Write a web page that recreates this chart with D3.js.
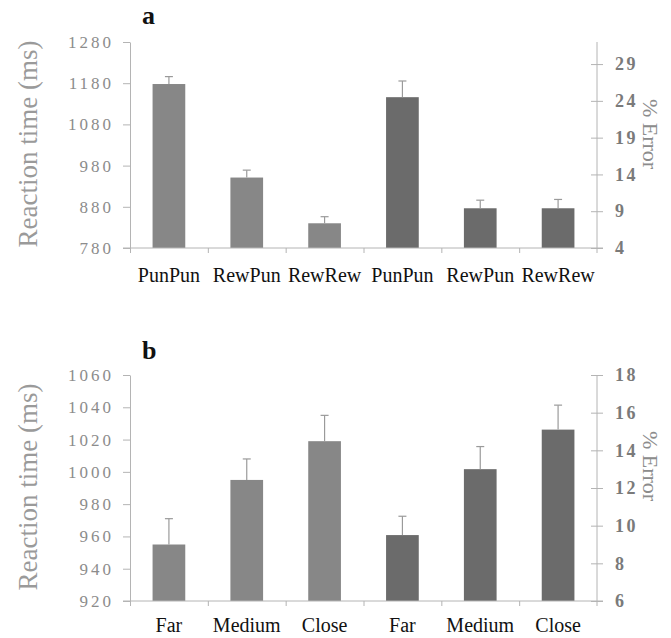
<!DOCTYPE html>
<html>
<head>
<meta charset="utf-8">
<script src="https://cdn.jsdelivr.net/npm/d3@7"></script>
<style>
  body { margin: 0; background: #fff; }
  svg { display: block; }
</style>
</head>
<body>
<svg id="chart" width="671" height="638"></svg>
<script>
// panel a: reward/punishment history
const conditionsA = ["PunPun", "RewPun", "RewRew"];
const rtA = [1178, 951, 840];
const rtErrA = [18, 18, 16];
const pctErrA = [24.5, 9.4, 9.4];
const pctErrErrA = [2.2, 1.1, 1.2];
const rtTicksA = [780, 880, 980, 1080, 1180, 1280];
const pctTicksA = [4, 9, 14, 19, 24, 29];

// panel b: distance
const conditionsB = ["Far", "Medium", "Close"];
const rtB = [955, 995, 1019];
const rtErrB = [16, 13, 16];
const pctErrB = [9.5, 13.0, 15.1];
const pctErrErrB = [1.0, 1.2, 1.3];
const rtTicksB = [920, 940, 960, 980, 1000, 1020, 1040, 1060];
const pctTicksB = [6, 8, 10, 12, 14, 16, 18];

const SERIF = "'Liberation Serif', 'Times New Roman', serif";
const LIGHT_BAR = "#878787";
const DARK_BAR = "#6b6b6b";
const AXIS_COL = "#b4b4b4";

const svg = d3.select("#chart");

function drawPanel(opts) {
  const top = opts.top, bottom = opts.bottom;
  const left = 130, right = 597;

  const g = svg.append("g");

  // six slots: three RT bars, then three error bars
  const slots = opts.cats.map((c, i) => ({key: "rt" + i, label: c, value: opts.rt[i], err: opts.rtErr[i], axis: "left"}))
    .concat(opts.cats.map((c, i) => ({key: "pe" + i, label: c, value: opts.pe[i], err: opts.peErr[i], axis: "right"})));

  const x = d3.scaleBand()
    .domain(slots.map(d => d.key))
    .range([left, right])
    .paddingInner(0.58)
    .paddingOuter(0.29);

  const yL = d3.scaleLinear().domain(opts.rtDomain).range([bottom, top]);
  const yR = d3.scaleLinear().domain(opts.peDomain).range([bottom, top]);
  const yOf = d => d.axis === "left" ? yL : yR;

  // bars
  g.selectAll(".bar")
    .data(slots)
    .join("rect")
    .attr("class", "bar")
    .attr("x", d => x(d.key))
    .attr("width", x.bandwidth())
    .attr("y", d => yOf(d)(d.value))
    .attr("height", d => bottom - yOf(d)(d.value))
    .attr("fill", d => d.axis === "left" ? LIGHT_BAR : DARK_BAR);

  // error bars (upper only)
  const eb = g.selectAll(".eb")
    .data(slots)
    .join("g")
    .attr("class", "eb")
    .attr("stroke", "#9a9a9a")
    .attr("stroke-width", 1.2);
  eb.append("line")
    .attr("x1", d => x(d.key) + x.bandwidth() / 2)
    .attr("x2", d => x(d.key) + x.bandwidth() / 2)
    .attr("y1", d => yOf(d)(d.value))
    .attr("y2", d => yOf(d)(d.value + d.err));
  eb.append("line")
    .attr("x1", d => x(d.key) + x.bandwidth() / 2 - 4)
    .attr("x2", d => x(d.key) + x.bandwidth() / 2 + 4)
    .attr("y1", d => yOf(d)(d.value + d.err))
    .attr("y2", d => yOf(d)(d.value + d.err));

  // left axis
  const axL = g.append("g")
    .attr("transform", `translate(${left},0)`)
    .call(d3.axisLeft(yL).tickValues(opts.rtTicks).tickFormat(d3.format("d"))
      .tickSize(7).tickPadding(9).tickSizeOuter(0));
  axL.select(".domain").attr("stroke", AXIS_COL);
  axL.selectAll(".tick line").attr("stroke", AXIS_COL);
  axL.selectAll(".tick text")
    .attr("fill", "#8c8c8c")
    .style("font-family", SERIF)
    .style("font-size", "17px")
    .style("letter-spacing", "3px");

  // right axis with crossing ticks
  const axR = g.append("g")
    .attr("transform", `translate(${right},0)`)
    .call(d3.axisRight(yR).tickValues(opts.peTicks).tickFormat(d3.format("d"))
      .tickSize(6).tickPadding(12).tickSizeOuter(0));
  axR.select(".domain").remove();
  axR.append("line")
    .attr("y1", top).attr("y2", bottom + 5)
    .attr("stroke", AXIS_COL);
  axR.selectAll(".tick line").attr("x1", -6).attr("stroke", AXIS_COL);
  axR.selectAll(".tick text")
    .attr("fill", "#7a7a7a")
    .style("font-family", SERIF)
    .style("font-size", "18px")
    .style("font-weight", "bold")
    .style("letter-spacing", "2.5px");

  // baseline and category ticks
  g.append("line")
    .attr("x1", left - 7).attr("x2", right + 6)
    .attr("y1", bottom).attr("y2", bottom)
    .attr("stroke", AXIS_COL);
  const step = x.step();
  const bounds = d3.range(slots.length).map(i => x(slots[0].key) - x.paddingOuter() * step + i * step);
  g.selectAll(".xtick")
    .data(bounds)
    .join("line")
    .attr("class", "xtick")
    .attr("x1", d => d + 0.5).attr("x2", d => d + 0.5)
    .attr("y1", bottom).attr("y2", bottom + 5)
    .attr("stroke", AXIS_COL);

  // category labels
  g.selectAll(".cat")
    .data(slots)
    .join("text")
    .attr("class", "cat")
    .attr("x", d => x(d.key) + x.bandwidth() / 2)
    .attr("y", opts.labelY)
    .attr("text-anchor", "middle")
    .style("font-family", SERIF)
    .style("font-size", "20px")
    .attr("fill", "#111")
    .text(d => d.label);

  // axis titles
  const midY = (top + bottom) / 2;
  g.append("text")
    .attr("transform", `translate(37,${midY - 1}) rotate(-90)`)
    .attr("text-anchor", "middle")
    .style("font-family", SERIF)
    .style("font-size", "27px")
    .attr("fill", "#9a9a9a")
    .text("Reaction time (ms)");
  g.append("text")
    .attr("transform", `translate(643,${opts.pctTitleY}) rotate(90)`)
    .attr("text-anchor", "middle")
    .style("font-family", SERIF)
    .style("font-size", "22px")
    .attr("fill", "#8c8c8c")
    .text("% Error");

  // panel letter
  g.append("text")
    .attr("x", 142)
    .attr("y", opts.letterY)
    .style("font-family", SERIF)
    .style("font-size", "26px")
    .style("font-weight", "bold")
    .attr("fill", "#111")
    .text(opts.letter);
}

drawPanel({
  letter: "a", letterY: 24,
  top: 42, bottom: 248, labelY: 282, pctTitleY: 134,
  cats: conditionsA, rt: rtA, rtErr: rtErrA, pe: pctErrA, peErr: pctErrErrA,
  rtDomain: [780, 1280], peDomain: [4, 32],
  rtTicks: rtTicksA, peTicks: pctTicksA
});

drawPanel({
  letter: "b", letterY: 359,
  top: 375, bottom: 601, labelY: 632, pctTitleY: 466,
  cats: conditionsB, rt: rtB, rtErr: rtErrB, pe: pctErrB, peErr: pctErrErrB,
  rtDomain: [920, 1060], peDomain: [6, 18],
  rtTicks: rtTicksB, peTicks: pctTicksB
});
</script>
</body>
</html>
